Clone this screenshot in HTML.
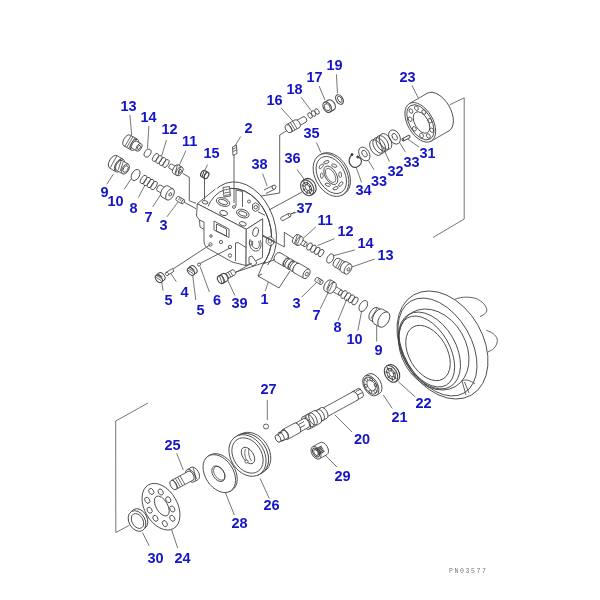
<!DOCTYPE html>
<html><head><meta charset="utf-8"><style>
html,body{margin:0;padding:0;background:#fff;width:600px;height:600px;overflow:hidden}
svg{position:absolute;left:0;top:0;filter:blur(0.3px)}
.lb text{font-family:"Liberation Sans",sans-serif;font-weight:bold;font-size:14.5px;fill:#1414c8}
.ln{stroke:#666;stroke-width:0.9;fill:none}
.pt{stroke:#444;stroke-width:0.85;fill:none;stroke-linejoin:round}
</style></head><body>
<svg width="600" height="600" viewBox="0 0 600 600">
<defs><clipPath id="flc"><polygon points="150,100 350,100 350,300 263,300 263,262 246,265.5 232,262 209,249 150,215"/></clipPath><clipPath id="tfc"><polygon points="150,100 350,100 350,300 262.7,300 262.7,218.8 197.3,203.7 150,203.7"/></clipPath><clipPath id="hrc"><polygon points="406,280 530,280 530,430 420,430 406,380"/></clipPath></defs>
<g class="ln">
<line x1="129.87" y1="115.09" x2="131.7" y2="135"/>
<line x1="148.89" y1="125.8" x2="147.5" y2="148.3"/>
<line x1="166.48" y1="140.02" x2="161.7" y2="155.8"/>
<line x1="185.96" y1="150.64" x2="178.3" y2="167.5"/>
<line x1="207.53" y1="164.63" x2="205" y2="170"/>
<line x1="240.75" y1="136.53" x2="235" y2="145.8"/>
<line x1="106.78" y1="184.29" x2="113.3" y2="174.2"/>
<line x1="124.28" y1="189.29" x2="130.8" y2="179.2"/>
<line x1="138.34" y1="197.61" x2="145" y2="185"/>
<line x1="152.7" y1="206.8" x2="161.7" y2="193.3"/>
<line x1="166.88" y1="216.86" x2="178.3" y2="201.7"/>
<line x1="281.2" y1="108.04" x2="293.7" y2="122"/>
<line x1="301.08" y1="97.24" x2="311.3" y2="110.8"/>
<line x1="319.0" y1="85.86" x2="325" y2="100"/>
<line x1="336.4" y1="74.3" x2="337.5" y2="93.3"/>
<line x1="316.51" y1="142.46" x2="320.8" y2="152.5"/>
<line x1="412.0" y1="85.41" x2="418.2" y2="97.8"/>
<line x1="419.03" y1="146.97" x2="406.5" y2="138.2"/>
<line x1="405.56" y1="152.27" x2="397.2" y2="138.7"/>
<line x1="389.45" y1="161.57" x2="383.2" y2="148"/>
<line x1="374.06" y1="169.77" x2="365.7" y2="156.2"/>
<line x1="361.59" y1="182.51" x2="356.3" y2="167.8"/>
<line x1="296.47" y1="212.38" x2="290.6" y2="214"/>
<line x1="262.63" y1="173.69" x2="267.2" y2="186"/>
<line x1="297.05" y1="169.46" x2="305" y2="180.5"/>
<line x1="315.87" y1="226.81" x2="303.6" y2="238"/>
<line x1="334.43" y1="238.68" x2="317.7" y2="245.5"/>
<line x1="354.96" y1="249.87" x2="332.8" y2="255.9"/>
<line x1="374.5" y1="259.09" x2="351.3" y2="267.2"/>
<line x1="301.57" y1="297.33" x2="316.6" y2="282.3"/>
<line x1="320.19" y1="308.88" x2="328.9" y2="291"/>
<line x1="337.89" y1="320.74" x2="347" y2="298.6"/>
<line x1="357.84" y1="330.73" x2="361.7" y2="310.8"/>
<line x1="376.7" y1="341.5" x2="376.7" y2="318.3"/>
<line x1="163.03" y1="290.72" x2="161.5" y2="280.8"/>
<line x1="176.3" y1="281.7" x2="170.3" y2="272.7"/>
<line x1="195.78" y1="300.01" x2="192.5" y2="273.8"/>
<line x1="209.38" y1="292.01" x2="200.2" y2="266.8"/>
<line x1="234.94" y1="295.57" x2="227.5" y2="279.7"/>
<line x1="265.37" y1="290.79" x2="268.3" y2="282"/>
<line x1="267.3" y1="400.1" x2="267.3" y2="420"/>
<line x1="352.03" y1="432.03" x2="335" y2="415"/>
<line x1="392.3" y1="408.5" x2="383.3" y2="395"/>
<line x1="415.36" y1="397.09" x2="398.3" y2="381.7"/>
<line x1="337.03" y1="467.03" x2="325" y2="455"/>
<line x1="176.67" y1="453.37" x2="183.3" y2="470"/>
<line x1="269.25" y1="498.37" x2="260" y2="478.3"/>
<line x1="234.33" y1="515.03" x2="225" y2="491.7"/>
<line x1="149.2" y1="545.89" x2="142.5" y2="532.5"/>
<line x1="177.74" y1="548.29" x2="171.7" y2="530"/>
<line x1="464.2" y1="97.8" x2="464.2" y2="219"/>
<line x1="464.2" y1="219" x2="433" y2="237.5"/>
<line x1="449.7" y1="104.8" x2="464.2" y2="97.8"/>
<line x1="148" y1="403" x2="115.7" y2="421"/>
<line x1="115.7" y1="421" x2="115.8" y2="532.5"/>
<line x1="115.8" y1="532.5" x2="129.2" y2="525.4"/>
</g>
<g class="pt">
<path d="M453,300.5 C458,297 468,296 476,298.5 C482,301 487,306 486.8,310.5 C486.5,313.5 483,315.5 480,316.5" fill="#fff"/><path d="M486.5,330.5 C491,331.5 496,335 497.2,339 C498,343 495,348.5 491.3,350.3 C490,351 488.8,351.5 487.8,352" fill="#fff"/><ellipse cx="442.5" cy="345" rx="40.6" ry="57.8" transform="rotate(-30 442.5 345)" fill="#fff" /><ellipse cx="437.5" cy="347" rx="33.8" ry="53.1" transform="rotate(-30 437.5 347)" fill="#fff" /><ellipse cx="433.75" cy="349.5" rx="32.3" ry="42.9" transform="rotate(-30 433.75 349.5)" fill="none" /><ellipse cx="429.5" cy="350.5" rx="26.5" ry="41.7" transform="rotate(-30 429.5 350.5)" fill="none" /><ellipse cx="426.9" cy="351.5" rx="22.9" ry="38.8" transform="rotate(-30 426.9 351.5)" fill="none" /><ellipse cx="428" cy="353" rx="19" ry="30" transform="rotate(-30 428 353)" fill="#fff" /><path d="M462,381 C465,379 470,380 475,384 M462,381 L466,395 M464.5,382 L469,393" fill="none"/><ellipse cx="360" cy="393" rx="2.6" ry="4.8" transform="rotate(-28 360 393)" fill="#fff" /><path d="M357.70150977273323,388.786101250011 L352.20150977273323,391.786101250011 L356.79849022726677,400.213898749989 L362.29849022726677,397.213898749989" fill="#fff"/><ellipse cx="354.5" cy="396" rx="2.6" ry="4.8" transform="rotate(-28 354.5 396)" fill="#fff" /><path d="M356,391.5 L360.5,389.2 M357.5,395 L362,392.7" fill="none"/><ellipse cx="355" cy="396" rx="2.6" ry="4.8" transform="rotate(-28 355 396)" fill="#fff" /><path d="M352.6920034662071,391.7913004383777 L321.6920034662071,408.7913004383777 L326.3079965337929,417.2086995616223 L357.3079965337929,400.2086995616223" fill="#fff"/><ellipse cx="324" cy="413" rx="2.6" ry="4.8" transform="rotate(-28 324 413)" fill="#fff" /><ellipse cx="324" cy="413" rx="3.2" ry="6" transform="rotate(-28 324 413)" fill="#fff" /><path d="M321.023166369859,407.79054114725324 L314.023166369859,411.79054114725324 L319.976833630141,422.20945885274676 L326.976833630141,418.20945885274676" fill="#fff"/><ellipse cx="317" cy="417" rx="3.2" ry="6" transform="rotate(-28 317 417)" fill="#fff" /><ellipse cx="320.5" cy="415" rx="3.2" ry="6" transform="rotate(-28 320.5 415)" fill="none" /><ellipse cx="317" cy="417" rx="3.6" ry="7" transform="rotate(-28 317 417)" fill="#fff" /><path d="M313.64803508523596,410.8547309895993 L302.64803508523596,416.8547309895993 L309.35196491476404,429.1452690104007 L320.35196491476404,423.1452690104007" fill="#fff"/><ellipse cx="306" cy="423" rx="3.6" ry="7" transform="rotate(-28 306 423)" fill="#fff" /><ellipse cx="313" cy="419" rx="3.4" ry="6.6" transform="rotate(-28 313 419)" fill="none" /><ellipse cx="310" cy="420.6" rx="3.4" ry="6.6" transform="rotate(-28 310 420.6)" fill="none" /><ellipse cx="306" cy="423" rx="2.8" ry="5" transform="rotate(-28 306 423)" fill="#fff" /><path d="M303.57178534410684,418.6292136193923 L294.57178534410684,423.6292136193923 L299.42821465589316,432.3707863806077 L308.42821465589316,427.3707863806077" fill="#fff"/><ellipse cx="297" cy="428" rx="2.8" ry="5" transform="rotate(-28 297 428)" fill="#fff" /><path d="M305,425 L297,429.5 M304,421.5 L296,426" fill="none"/><ellipse cx="297" cy="428" rx="3" ry="5.5" transform="rotate(-28 297 428)" fill="#fff" /><path d="M294.3804426830259,423.16389418404776 L282.3804426830259,429.66389418404776 L287.6195573169741,439.33610581595224 L299.6195573169741,432.83610581595224" fill="#fff"/><ellipse cx="285" cy="434.5" rx="3" ry="5.5" transform="rotate(-28 285 434.5)" fill="#fff" /><ellipse cx="285" cy="434.5" rx="2.5" ry="4.5" transform="rotate(-28 285 434.5)" fill="#fff" /><path d="M282.98753882025017,430.4750776405004 L278.98753882025017,432.4750776405004 L283.01246117974983,440.5249223594996 L287.01246117974983,438.5249223594996" fill="#fff"/><ellipse cx="281" cy="436.5" rx="2.5" ry="4.5" transform="rotate(-28 281 436.5)" fill="#fff" /><path d="M282.5,432 L278,434.5 M284.5,440 L279.5,442" fill="none"/><ellipse cx="278" cy="438.5" rx="2.4" ry="4" transform="rotate(-28 278 438.5)" fill="#fff" /><ellipse cx="373.9" cy="383.8" rx="6.8" ry="11.2" transform="rotate(-30 373.9 383.8)" fill="#fff" /><path d="M368.27608220527105,374.11436379796703 L365.1760822052711,375.91436379796704 L376.42391779472894,395.285636202033 L379.5239177947289,393.485636202033" fill="#fff"/><ellipse cx="370.8" cy="385.6" rx="6.8" ry="11.2" transform="rotate(-30 370.8 385.6)" fill="#fff" /><ellipse cx="370.6" cy="385.6" rx="5.6" ry="9.4" transform="rotate(-30 370.6 385.6)" fill="none" /><ellipse cx="371.2" cy="385.4" rx="3.6" ry="5.8" transform="rotate(-30 371.2 385.4)" fill="none" stroke-width="0.7" /><ellipse cx="375.7" cy="385.2" rx="1.3" ry="1.7" transform="rotate(-30 375.7 385.2)" fill="none" stroke-width="0.8" /><ellipse cx="375.29" cy="391.24" rx="1.3" ry="1.7" transform="rotate(-30 375.29 391.24)" fill="none" stroke-width="0.8" /><ellipse cx="370.39" cy="391.54" rx="1.3" ry="1.7" transform="rotate(-30 370.39 391.54)" fill="none" stroke-width="0.8" /><ellipse cx="365.9" cy="385.8" rx="1.3" ry="1.7" transform="rotate(-30 365.9 385.8)" fill="none" stroke-width="0.8" /><ellipse cx="366.31" cy="379.76" rx="1.3" ry="1.7" transform="rotate(-30 366.31 379.76)" fill="none" stroke-width="0.8" /><ellipse cx="371.21" cy="379.46" rx="1.3" ry="1.7" transform="rotate(-30 371.21 379.46)" fill="none" stroke-width="0.8" /><ellipse cx="393" cy="372.8" rx="5.8" ry="9" transform="rotate(-30 393 372.8)" fill="#fff" stroke-width="1.1" /><path d="M388.6627312520507,364.91405682191015 L386.6627312520507,366.0140568219101 L395.3372687479493,381.78594317808984 L397.3372687479493,380.6859431780899" fill="#fff" stroke-width="1.1"/><ellipse cx="391" cy="373.9" rx="5.8" ry="9" transform="rotate(-30 391 373.9)" fill="#fff" stroke-width="1.1" /><ellipse cx="391" cy="373.9" rx="3.6" ry="6.2" transform="rotate(-30 391 373.9)" fill="none" stroke-width="0.9" /><ellipse cx="391.3" cy="373.7" rx="1.9" ry="3.4" transform="rotate(-30 391.3 373.7)" fill="none" stroke-width="0.8" /><path d="M393.24,373.48 L395.66,372.95" stroke-width="1.4" stroke="#555"/><path d="M393.56,376.33 L396.20,378.71" stroke-width="1.4" stroke="#555"/><path d="M391.95,377.35 L392.82,380.84" stroke-width="1.4" stroke="#555"/><path d="M389.62,375.78 L388.07,377.75" stroke-width="1.4" stroke="#555"/><path d="M388.33,372.79 L385.53,371.76" stroke-width="1.4" stroke="#555"/><path d="M389.05,370.64 L387.10,367.38" stroke-width="1.4" stroke="#555"/><path d="M391.24,370.94 L391.61,367.91" stroke-width="1.4" stroke="#555"/><ellipse cx="266" cy="426.5" rx="2.5" ry="2.5" fill="#fff" /><ellipse cx="323.5" cy="448.6" rx="4.2" ry="6.9" transform="rotate(-30 323.5 448.6)" fill="#fff" /><path d="M320.1286367543703,442.57970848994694 L312.6286367543703,446.7797084899469 L319.3713632456297,458.8202915100531 L326.8713632456297,454.6202915100531" fill="#fff"/><ellipse cx="316" cy="452.8" rx="4.2" ry="6.9" transform="rotate(-30 316 452.8)" fill="#fff" /><ellipse cx="316" cy="452.6" rx="2.8" ry="4.8" transform="rotate(-30 316 452.6)" fill="none" stroke-width="1.0" /><path d="M314.5,450.0 L321.5,446.0" stroke-width="1.1"/><path d="M315.2,451.3 L322.2,447.3" stroke-width="1.1"/><path d="M316.0,452.6 L323.0,448.6" stroke-width="1.1"/><path d="M316.8,453.9 L323.8,449.9" stroke-width="1.1"/><path d="M317.5,455.2 L324.5,451.2" stroke-width="1.1"/><ellipse cx="316" cy="452.6" rx="1.8" ry="3.2" transform="rotate(-30 316 452.6)" fill="#fff" stroke-width="0.8" /><ellipse cx="252.5" cy="452.8" rx="16.5" ry="22" transform="rotate(-33 252.5 452.8)" fill="#fff" /><path d="M241.75072588349957,433.6048676491061 L239.25072588349957,435.0048676491061 L260.74927411650043,473.3951323508939 L263.24927411650043,471.9951323508939" fill="#fff"/><ellipse cx="250" cy="454.2" rx="16.5" ry="22" transform="rotate(-33 250 454.2)" fill="#fff" /><ellipse cx="250" cy="454.2" rx="16.8" ry="22.3" transform="rotate(-33 250 454.2)" fill="#fff" /><path d="M239.71183397288357,434.41506533246854 L237.21183397288357,435.71506533246855 L257.78816602711646,475.28493466753145 L260.28816602711646,473.98493466753143" fill="#fff"/><ellipse cx="247.5" cy="455.5" rx="16.8" ry="22.3" transform="rotate(-33 247.5 455.5)" fill="#fff" /><ellipse cx="247.5" cy="455.5" rx="14" ry="19" transform="rotate(-33 247.5 455.5)" fill="none" /><ellipse cx="248" cy="455.5" rx="5.4" ry="9.2" transform="rotate(-33 248 455.5)" fill="#fff" /><path d="M245.5,449 C244,453 245,459 248,462 M249,448.5 C248,452 249,458 251.5,461" fill="none" stroke-width="0.8"/><ellipse cx="246.5" cy="461.5" rx="1.6" ry="1.6" fill="#fff" stroke-width="0.8" /><ellipse cx="221" cy="472.6" rx="14" ry="20.7" transform="rotate(-33 221 472.6)" fill="#fff" /><path d="M210.5046833801377,454.75796174623423 L208.8046833801377,455.75796174623423 L229.79531661986232,491.4420382537658 L231.4953166198623,490.4420382537658" fill="#fff"/><ellipse cx="219.3" cy="473.6" rx="14" ry="20.7" transform="rotate(-33 219.3 473.6)" fill="#fff" /><ellipse cx="218.4" cy="473.7" rx="5.6" ry="8.6" transform="rotate(-33 218.4 473.7)" fill="none" /><ellipse cx="219.2" cy="473.3" rx="4.6" ry="7.6" transform="rotate(-33 219.2 473.3)" fill="none" stroke-width="0.7" /><ellipse cx="194.5" cy="473.5" rx="4.2" ry="7" transform="rotate(-30 194.5 473.5)" fill="#fff" /><path d="M191.0107021301934,467.43165587859727 L187.0107021301934,469.7316558785973 L193.9892978698066,481.86834412140274 L197.9892978698066,479.56834412140273" fill="#fff"/><ellipse cx="190.5" cy="475.8" rx="4.2" ry="7" transform="rotate(-30 190.5 475.8)" fill="#fff" /><path d="M193,467.5 L196.5,479 M190,469.5 L193,480.5" fill="none" stroke-width="0.8"/><ellipse cx="190.5" cy="475.8" rx="3" ry="5" transform="rotate(-30 190.5 475.8)" fill="#fff" /><path d="M188.12025101653975,471.4026377479539 L171.12025101653975,480.6026377479539 L175.87974898346025,489.3973622520461 L192.87974898346025,480.1973622520461" fill="#fff"/><ellipse cx="173.5" cy="485" rx="3" ry="5" transform="rotate(-30 173.5 485)" fill="#fff" /><path d="M173.0,479.6 L178.0,488.2" stroke-width="0.8"/><path d="M175.3,478.3 L180.3,486.9" stroke-width="0.8"/><path d="M177.6,477.1 L182.6,485.7" stroke-width="0.8"/><path d="M179.9,475.8 L184.9,484.4" stroke-width="0.8"/><ellipse cx="161" cy="506.7" rx="16.4" ry="25.2" transform="rotate(-30 161 506.7)" fill="#fff" /><ellipse cx="161.8" cy="506" rx="5.8" ry="11" transform="rotate(-30 161.8 506)" fill="none" /><ellipse cx="151.3" cy="491.5" rx="2.3" ry="3.2" transform="rotate(-30 151.3 491.5)" fill="none" /><ellipse cx="160.7" cy="492" rx="2.3" ry="3.2" transform="rotate(-30 160.7 492)" fill="none" /><ellipse cx="168.3" cy="499.7" rx="2.3" ry="3.2" transform="rotate(-30 168.3 499.7)" fill="none" /><ellipse cx="172.3" cy="509" rx="2.3" ry="3.2" transform="rotate(-30 172.3 509)" fill="none" /><ellipse cx="172.3" cy="518.3" rx="2.3" ry="3.2" transform="rotate(-30 172.3 518.3)" fill="none" /><ellipse cx="164.8" cy="523.6" rx="2.3" ry="3.2" transform="rotate(-30 164.8 523.6)" fill="none" /><ellipse cx="155.4" cy="518.3" rx="2.3" ry="3.2" transform="rotate(-30 155.4 518.3)" fill="none" /><ellipse cx="149.6" cy="510.2" rx="2.3" ry="3.2" transform="rotate(-30 149.6 510.2)" fill="none" /><ellipse cx="147.3" cy="500.3" rx="2.3" ry="3.2" transform="rotate(-30 147.3 500.3)" fill="none" /><ellipse cx="139" cy="519" rx="8" ry="11" transform="rotate(-30 139 519)" fill="#fff" /><ellipse cx="137" cy="521" rx="8" ry="11" transform="rotate(-30 137 521)" fill="#fff" /><ellipse cx="137.5" cy="521" rx="5.5" ry="8" transform="rotate(-30 137.5 521)" fill="none" /><ellipse cx="438" cy="112.1" rx="12.6" ry="21.7" transform="rotate(-30 438 112.1)" fill="#fff" /><path d="M427.12542194327756,93.32146033131833 L409.42542194327757,103.57146033131833 L431.17457805672245,141.12853966868167 L448.87457805672244,130.87853966868167" fill="#fff"/><ellipse cx="420.3" cy="122.35" rx="12.6" ry="21.7" transform="rotate(-30 420.3 122.35)" fill="#fff" /><ellipse cx="420.4" cy="122.3" rx="11" ry="19.3" transform="rotate(-30 420.4 122.3)" fill="none" /><ellipse cx="421.5" cy="122.5" rx="6.7" ry="11.8" transform="rotate(-30 421.5 122.5)" fill="#fff" /><ellipse cx="429.9" cy="120.72" rx="1.7" ry="2.4" transform="rotate(-30 429.9 120.72)" fill="none" stroke-width="0.8" /><ellipse cx="431.7" cy="130.19" rx="1.7" ry="2.4" transform="rotate(-30 431.7 130.19)" fill="none" stroke-width="0.8" /><ellipse cx="428.4" cy="136.02" rx="1.7" ry="2.4" transform="rotate(-30 428.4 136.02)" fill="none" stroke-width="0.8" /><ellipse cx="421.54" cy="135.47" rx="1.7" ry="2.4" transform="rotate(-30 421.54 135.47)" fill="none" stroke-width="0.8" /><ellipse cx="414.34" cy="128.81" rx="1.7" ry="2.4" transform="rotate(-30 414.34 128.81)" fill="none" stroke-width="0.8" /><ellipse cx="410.15" cy="119.15" rx="1.7" ry="2.4" transform="rotate(-30 410.15 119.15)" fill="none" stroke-width="0.8" /><ellipse cx="410.95" cy="111.01" rx="1.7" ry="2.4" transform="rotate(-30 410.95 111.01)" fill="none" stroke-width="0.8" /><ellipse cx="416.36" cy="108.2" rx="1.7" ry="2.4" transform="rotate(-30 416.36 108.2)" fill="none" stroke-width="0.8" /><ellipse cx="423.84" cy="112.04" rx="1.7" ry="2.4" transform="rotate(-30 423.84 112.04)" fill="none" stroke-width="0.8" /><ellipse cx="409" cy="136.6" rx="0.8" ry="1.3" transform="rotate(-30 409 136.6)" fill="#fff" stroke-width="1.0" /><path d="M408.38823529411764,135.45294117647057 L402.38823529411764,138.6529411764706 L403.61176470588236,140.94705882352943 L409.61176470588236,137.74705882352941" fill="#fff" stroke-width="1.0"/><ellipse cx="403" cy="139.8" rx="0.8" ry="1.3" transform="rotate(-30 403 139.8)" fill="#fff" stroke-width="1.0" /><ellipse cx="394.5" cy="137" rx="5.2" ry="7.6" transform="rotate(-30 394.5 137)" fill="#fff" /><ellipse cx="394.7" cy="136.8" rx="2.3" ry="3.6" transform="rotate(-30 394.7 136.8)" fill="none" /><ellipse cx="376.0" cy="147.5" rx="5.4" ry="8.6" transform="rotate(-30 376.0 147.5)" fill="none" /><ellipse cx="379.1666666666667" cy="145.5" rx="5.4" ry="8.6" transform="rotate(-30 379.1666666666667 145.5)" fill="none" /><ellipse cx="382.3333333333333" cy="143.5" rx="5.4" ry="8.6" transform="rotate(-30 382.3333333333333 143.5)" fill="none" /><ellipse cx="385.5" cy="141.5" rx="5.4" ry="8.6" transform="rotate(-30 385.5 141.5)" fill="none" /><ellipse cx="364.3" cy="154" rx="5" ry="7.4" transform="rotate(-30 364.3 154)" fill="#fff" /><ellipse cx="364.5" cy="153.6" rx="2.3" ry="3.6" transform="rotate(-30 364.5 153.6)" fill="none" /><path d="M352.5,154.5 C348.5,157 348,163 351.5,166 C354.5,168.5 359,167.5 361,163.5 C362,161 361,158.5 358.5,157" fill="none" stroke-width="1.1"/><ellipse cx="352" cy="154.5" rx="1.1" ry="1.1" fill="#333" /><ellipse cx="357.8" cy="157" rx="1.1" ry="1.1" fill="#333" /><ellipse cx="332.6" cy="174.1" rx="15.8" ry="23" transform="rotate(-30 332.6 174.1)" fill="#fff" /><path d="M321.3239914884512,154.0537626461353 L319.7239914884512,154.95376264613532 L342.2760085115488,195.04623735386468 L343.87600851154883,194.14623735386468" fill="#fff"/><ellipse cx="331" cy="175" rx="15.8" ry="23" transform="rotate(-30 331 175)" fill="#fff" /><ellipse cx="331.3" cy="175" rx="13.2" ry="20" transform="rotate(-30 331.3 175)" fill="none" /><ellipse cx="330.8" cy="175.3" rx="5.6" ry="10.2" transform="rotate(-30 330.8 175.3)" fill="none" /><ellipse cx="330.6" cy="175.4" rx="4" ry="7.8" transform="rotate(-30 330.6 175.4)" fill="none" stroke-width="0.7" /><ellipse cx="340.21" cy="174.73" rx="1.4" ry="2.8" transform="rotate(-2.9 340.21 174.73)" fill="none" stroke-width="0.8" /><ellipse cx="340.75" cy="184.07" rx="1.4" ry="2.8" transform="rotate(42.3 340.75 184.07)" fill="none" stroke-width="0.8" /><ellipse cx="335.58" cy="188.22" rx="1.4" ry="2.8" transform="rotate(70.6 335.58 188.22)" fill="none" stroke-width="0.8" /><ellipse cx="327.73" cy="184.74" rx="1.4" ry="2.8" transform="rotate(108.9 327.73 184.74)" fill="none" stroke-width="0.8" /><ellipse cx="321.79" cy="175.67" rx="1.4" ry="2.8" transform="rotate(177.1 321.79 175.67)" fill="none" stroke-width="0.8" /><ellipse cx="321.25" cy="166.33" rx="1.4" ry="2.8" transform="rotate(-137.7 321.25 166.33)" fill="none" stroke-width="0.8" /><ellipse cx="326.42" cy="162.18" rx="1.4" ry="2.8" transform="rotate(-109.4 326.42 162.18)" fill="none" stroke-width="0.8" /><ellipse cx="334.27" cy="165.66" rx="1.4" ry="2.8" transform="rotate(-71.1 334.27 165.66)" fill="none" stroke-width="0.8" /><ellipse cx="309.5" cy="186.3" rx="6" ry="8.4" transform="rotate(-30 309.5 186.3)" fill="#fff" stroke-width="1.1" /><path d="M304.91135064340585,179.26407098655565 L302.61135064340584,180.76407098655565 L311.78864935659414,194.83592901344437 L314.08864935659415,193.33592901344437" fill="#fff" stroke-width="1.1"/><ellipse cx="307.2" cy="187.8" rx="6" ry="8.4" transform="rotate(-30 307.2 187.8)" fill="#fff" stroke-width="1.1" /><ellipse cx="307.2" cy="187.8" rx="3.8" ry="5.8" transform="rotate(-30 307.2 187.8)" fill="none" /><ellipse cx="307.5" cy="187.6" rx="2" ry="3.3" transform="rotate(-30 307.5 187.6)" fill="none" /><path d="M309.11,186.70 L311.18,185.50" stroke-width="1.1"/><path d="M309.78,189.17 L312.63,190.71" stroke-width="1.1"/><path d="M308.95,190.83 L310.90,194.21" stroke-width="1.1"/><path d="M307.09,190.72 L307.00,193.96" stroke-width="1.1"/><path d="M305.29,188.90 L303.22,190.10" stroke-width="1.1"/><path d="M304.62,186.43 L301.77,184.89" stroke-width="1.1"/><path d="M305.45,184.77 L303.50,181.39" stroke-width="1.1"/><path d="M307.31,184.88 L307.40,181.64" stroke-width="1.1"/><ellipse cx="304.5" cy="119.5" rx="2" ry="3" transform="rotate(-30 304.5 119.5)" fill="#fff" /><path d="M303.00784766266787,116.8974087139556 L295.50784766266787,121.1974087139556 L298.49215233733213,126.4025912860444 L305.99215233733213,122.1025912860444" fill="#fff"/><ellipse cx="297" cy="123.8" rx="2" ry="3" transform="rotate(-30 297 123.8)" fill="#fff" /><ellipse cx="297" cy="123.8" rx="2.8" ry="4.4" transform="rotate(-30 297 123.8)" fill="#fff" /><path d="M294.8364334897961,119.96868430484722 L286.3364334897961,124.76868430484721 L290.6635665102039,132.43131569515276 L299.1635665102039,127.63131569515278" fill="#fff"/><ellipse cx="288.5" cy="128.6" rx="2.8" ry="4.4" transform="rotate(-30 288.5 128.6)" fill="#fff" /><path d="M288.3,123.7 L292.7,131.3" stroke-width="0.8"/><path d="M290.5,122.5 L294.9,130.1" stroke-width="0.8"/><path d="M292.7,121.2 L297.1,128.8" stroke-width="0.8"/><ellipse cx="317.0" cy="111.5" rx="1.9" ry="3" transform="rotate(-30 317.0 111.5)" fill="none" /><ellipse cx="313.5" cy="113.5" rx="1.9" ry="3" transform="rotate(-30 313.5 113.5)" fill="none" /><ellipse cx="310.0" cy="115.5" rx="1.9" ry="3" transform="rotate(-30 310.0 115.5)" fill="none" /><ellipse cx="331" cy="105" rx="3.8" ry="5.6" transform="rotate(-30 331 105)" fill="#fff" stroke-width="1.1" /><path d="M328.19419688496646,100.1536128013057 L324.39419688496645,102.3536128013057 L330.00580311503353,112.0463871986943 L333.80580311503354,109.8463871986943" fill="#fff" stroke-width="1.1"/><ellipse cx="327.2" cy="107.2" rx="3.8" ry="5.6" transform="rotate(-30 327.2 107.2)" fill="#fff" stroke-width="1.1" /><ellipse cx="327.2" cy="107.2" rx="2.6" ry="3.8" transform="rotate(-30 327.2 107.2)" fill="none" /><ellipse cx="339.5" cy="99.5" rx="3.3" ry="5.2" transform="rotate(-30 339.5 99.5)" fill="none" stroke-width="1.1" /><ellipse cx="339.8" cy="99.3" rx="1.8" ry="3.4" transform="rotate(-30 339.8 99.3)" fill="none" /><path d="M286.7,130.8 L279.7,135 L279.7,193 L258,196.5" fill="none"/><path d="M264,190 L273,185.5 M266,193.5 L275,189" fill="none"/><ellipse cx="274" cy="187.2" rx="1.8" ry="2.2" transform="rotate(30 274 187.2)" fill="#fff" /><g clip-path="url(#flc)"><ellipse cx="241" cy="228.1" rx="33.9" ry="47.4" transform="rotate(-18.5 241 228.1)" fill="#fff" /><ellipse cx="238.2" cy="230.7" rx="32.3" ry="43.2" transform="rotate(-17.5 238.2 230.7)" fill="#fff" /></g><path d="M197.3,203.7 L215.4,189 L228,186 L262.7,218.8 L246.3,229.3 Z" fill="#fff" stroke-width="0"/><g clip-path="url(#tfc)"><ellipse cx="238.2" cy="230.7" rx="32.3" ry="43.2" transform="rotate(-17.5 238.2 230.7)" fill="none" /></g><path d="M223,187.5 L229.5,186.5 L230.5,196 L224,197 Z" fill="#fff"/><path d="M224,190 L229.5,189 M224.3,193 L230,192 M224.6,195.5 L230.3,194.5" fill="none" stroke-width="0.8"/><path d="M236,190 L236,206 M242.5,191.5 L242.5,207 M236,190 L242.5,191.5" fill="none"/><path d="M197.3,203.7 L215.4,189" fill="none"/><path d="M197.3,203.7 L246.3,229.3 L262.7,218.8" fill="none"/><path d="M197.3,203.7 L196.5,216 L199.5,220 L200,227 L204,229.5 L204,242 C204.5,245.5 206,247.5 209,249 L232,262 L246,265.5 L246.3,229.3 Z" fill="#fff"/><path d="M199.5,220 L204,222 L204,229.5" fill="none"/><path d="M214,221 L214,230 L229,237.5 L229,229 Z" fill="none"/><path d="M216.5,224 L216.5,231 L226.5,236 L226.5,229 Z" fill="none"/><ellipse cx="211" cy="236" rx="1.2" ry="1.32" fill="none" /><ellipse cx="210.5" cy="244.5" rx="1.6" ry="1.7600000000000002" fill="none" /><ellipse cx="221" cy="242" rx="1.6" ry="1.7600000000000002" fill="none" /><ellipse cx="230" cy="247" rx="1.6" ry="1.7600000000000002" fill="none" /><ellipse cx="230" cy="255.5" rx="1.6" ry="1.7600000000000002" fill="none" /><path d="M246.3,229.3 L262.7,218.8 L262.5,257.5 L246,265.5 Z" fill="#fff"/><path d="M235.5,261 L235.5,243 L238,242.5 L246,247.5" fill="none"/><ellipse cx="255.6" cy="232" rx="2.8" ry="4.6" transform="rotate(15 255.6 232)" fill="none" /><path d="M250,239 C248,246 252,252 257,251 C261,250 262,244 260,240 M252,241 C251,246 254,249 257,248.5 C259.5,248 260,244 258.5,241" fill="none"/><ellipse cx="251" cy="243" rx="1.8" ry="2.2" fill="none" /><path d="M249,257 L252,256 L257,263 L253,266 L249,263 Z" fill="#fff"/><path d="M266.5,238 L270.5,236.5 L274,239.5 L273.5,244 L269.5,245.5 L266,242.5 Z" fill="#fff" stroke-width="0.8"/><ellipse cx="270" cy="241" rx="1.8" ry="2.2" fill="none" stroke-width="0.7" /><ellipse cx="223" cy="202" rx="7" ry="4" transform="rotate(20 223 202)" fill="none" /><ellipse cx="223" cy="202" rx="4.8" ry="2.3" transform="rotate(20 223 202)" fill="none" /><ellipse cx="242.8" cy="213.6" rx="6.5" ry="4" transform="rotate(20 242.8 213.6)" fill="none" /><ellipse cx="242.8" cy="213.6" rx="4.5" ry="2.2" transform="rotate(20 242.8 213.6)" fill="none" /><ellipse cx="223.6" cy="213" rx="4" ry="2.5" transform="rotate(15 223.6 213)" fill="none" /><ellipse cx="205" cy="202.3" rx="3" ry="1.6" transform="rotate(15 205 202.3)" fill="none" /><ellipse cx="234" cy="207" rx="1.5" ry="1.4" fill="none" /><ellipse cx="242.8" cy="223.8" rx="3.5" ry="2" transform="rotate(15 242.8 223.8)" fill="none" /><ellipse cx="249" cy="201.5" rx="1.5" ry="1.5" fill="none" /><path d="M252.5,204.5 L255.5,202.8 L259,204.8 L259,209.5 L255.5,211.5 L252.5,209.5 Z" fill="#fff"/><ellipse cx="255.7" cy="207.2" rx="1.8" ry="1.8" fill="none" /><path d="M258,211.8 L265,215.3 M262.5,236 L275,242.5" fill="none"/><path d="M234,155 L234,203 M204.5,178 L204.5,199.5" fill="none"/><path d="M182.7,173.3 L189.3,177.3 L189.3,200.7 L196,203.3" fill="none"/><path d="M184,202 L196,208.7" fill="none"/><path d="M173,269 L210.5,244.5 M199,264 L230,248 M233,274 L252,263 M236,272 L266,262" fill="none"/><path d="M302,192 L269,210" fill="none"/><path d="M289,215 L295,212" fill="none"/><path d="M263,264 L258,276 L279,288 L290,271" fill="#fff"/><ellipse cx="277.5" cy="257" rx="2.8" ry="5" transform="rotate(30 277.5 257)" fill="#fff" /><path d="M274.99861201062686,261.32932536622275 L283.99861201062686,266.52932536622274 L289.00138798937314,257.87067463377724 L280.00138798937314,252.67067463377725" fill="#fff"/><ellipse cx="286.5" cy="262.2" rx="2.8" ry="5" transform="rotate(30 286.5 262.2)" fill="#fff" /><ellipse cx="286.5" cy="262.2" rx="2.3" ry="4.2" transform="rotate(30 286.5 262.2)" fill="#fff" /><path d="M284.3391178272044,265.8014702879927 L286.3391178272044,267.0014702879927 L290.6608821727956,259.7985297120073 L288.6608821727956,258.5985297120073" fill="#fff"/><ellipse cx="288.5" cy="263.4" rx="2.3" ry="4.2" transform="rotate(30 288.5 263.4)" fill="#fff" /><ellipse cx="288.5" cy="263.4" rx="2.8" ry="5" transform="rotate(30 288.5 263.4)" fill="#fff" /><path d="M286.03493714009556,267.750110929243 L289.03493714009556,269.45011092924307 L293.96506285990444,260.749889070757 L290.96506285990444,259.04988907075693" fill="#fff"/><ellipse cx="291.5" cy="265.1" rx="2.8" ry="5" transform="rotate(30 291.5 265.1)" fill="#fff" /><ellipse cx="291.5" cy="265.1" rx="2.3" ry="4.2" transform="rotate(30 291.5 265.1)" fill="#fff" /><path d="M289.3391178272044,268.7014702879927 L291.3391178272044,269.9014702879927 L295.6608821727956,262.6985297120073 L293.6608821727956,261.4985297120073" fill="#fff"/><ellipse cx="293.5" cy="266.3" rx="2.3" ry="4.2" transform="rotate(30 293.5 266.3)" fill="#fff" /><ellipse cx="293.5" cy="266.3" rx="2.8" ry="5" transform="rotate(30 293.5 266.3)" fill="#fff" /><path d="M291.0349371400956,270.65011092924306 L294.0349371400956,272.35011092924304 L298.9650628599044,263.64988907075696 L295.9650628599044,261.94988907075697" fill="#fff"/><ellipse cx="296.5" cy="268" rx="2.8" ry="5" transform="rotate(30 296.5 268)" fill="#fff" /><ellipse cx="296.5" cy="268" rx="2.9" ry="5.3" transform="rotate(30 296.5 268)" fill="#fff" /><path d="M293.8408941242092,272.58466530308755 L303.8408941242092,278.38466530308756 L309.1591058757908,269.21533469691246 L299.1591058757908,263.41533469691245" fill="#fff"/><ellipse cx="306.5" cy="273.8" rx="2.9" ry="5.3" transform="rotate(30 306.5 273.8)" fill="#fff" /><ellipse cx="306.8" cy="274" rx="1.3" ry="2" transform="rotate(30 306.8 274)" fill="none" /><path d="M263,264 L275,259.5 M258,276 L262,274" fill="none"/><ellipse cx="282" cy="219" rx="1.1" ry="1.8" transform="rotate(-30 282 219)" fill="#fff" /><path d="M282.84705882352944,220.58823529411765 L290.34705882352944,216.58823529411765 L288.65294117647056,213.41176470588235 L281.15294117647056,217.41176470588235" fill="#fff"/><ellipse cx="289.5" cy="215" rx="1.1" ry="1.8" transform="rotate(-30 289.5 215)" fill="#fff" /><path d="M294,238.5 L284.3,232.3 L284.3,247 L262.5,235" fill="none"/><ellipse cx="299.5" cy="241" rx="1.3" ry="2.4" transform="rotate(30 299.5 241)" fill="#fff" /><path d="M298.2907095387422,243.07306936215625 L304.2907095387422,246.57306936215625 L306.7092904612578,242.42693063784375 L300.7092904612578,238.92693063784375" fill="#fff"/><ellipse cx="305.5" cy="244.5" rx="1.3" ry="2.4" transform="rotate(30 305.5 244.5)" fill="#fff" /><ellipse cx="296" cy="239" rx="2.8" ry="5" transform="rotate(30 296 239)" fill="#fff" /><path d="M293.51930530821585,243.3412157106223 L297.01930530821585,245.3412157106223 L301.98069469178415,236.6587842893777 L298.48069469178415,234.6587842893777" fill="#fff"/><ellipse cx="299.5" cy="241" rx="2.8" ry="5" transform="rotate(30 299.5 241)" fill="#fff" /><path d="M297.5,235 L294.5,243 M300.3,236.6 L297.3,244.6" fill="none" stroke-width="0.8"/><ellipse cx="309.5" cy="246.5" rx="2.3" ry="4" transform="rotate(30 309.5 246.5)" fill="none" /><ellipse cx="313.3333333333333" cy="248.66666666666666" rx="2.3" ry="4" transform="rotate(30 313.3333333333333 248.66666666666666)" fill="none" /><ellipse cx="317.1666666666667" cy="250.83333333333334" rx="2.3" ry="4" transform="rotate(30 317.1666666666667 250.83333333333334)" fill="none" /><ellipse cx="321.0" cy="253.0" rx="2.3" ry="4" transform="rotate(30 321.0 253.0)" fill="none" /><ellipse cx="330.2" cy="258.5" rx="3" ry="5" transform="rotate(30 330.2 258.5)" fill="none" /><ellipse cx="336.5" cy="262.5" rx="2.7" ry="4.7" transform="rotate(30 336.5 262.5)" fill="#fff" /><path d="M334.162294671513,266.5773930148029 L341.662294671513,270.8773930148029 L346.337705328487,262.7226069851971 L338.837705328487,258.4226069851971" fill="#fff"/><ellipse cx="344" cy="266.8" rx="2.7" ry="4.7" transform="rotate(30 344 266.8)" fill="#fff" /><path d="M340.4,259.3 L335.6,267.5" stroke-width="0.8"/><path d="M342.4,260.4 L337.6,268.6" stroke-width="0.8"/><path d="M344.4,261.6 L339.6,269.8" stroke-width="0.8"/><ellipse cx="344" cy="266.8" rx="3.1" ry="5.6" transform="rotate(30 344 266.8)" fill="#fff" /><path d="M341.2085617041547,271.6546752971222 L345.2085617041547,273.9546752971222 L350.7914382958453,264.24532470287784 L346.7914382958453,261.9453247028778" fill="#fff"/><ellipse cx="348" cy="269.1" rx="3.1" ry="5.6" transform="rotate(30 348 269.1)" fill="#fff" /><ellipse cx="348.5" cy="269.4" rx="1.3" ry="1.8" transform="rotate(30 348.5 269.4)" fill="none" /><ellipse cx="316.5" cy="279.5" rx="1.3" ry="2.3" transform="rotate(30 316.5 279.5)" fill="#fff" /><path d="M315.34604839352477,281.48957173530215 L320.34604839352477,284.3895717353021 L322.65395160647523,280.4104282646978 L317.65395160647523,277.51042826469785" fill="#fff"/><ellipse cx="321.5" cy="282.4" rx="1.3" ry="2.3" transform="rotate(30 321.5 282.4)" fill="#fff" /><path d="M319,278.2 L317.5,281.2 M320.5,279 L319,282" fill="none" stroke-width="0.7"/><ellipse cx="331.5" cy="287.5" rx="1.6" ry="2.9" transform="rotate(30 331.5 287.5)" fill="#fff" /><path d="M330.04919496616355,290.0110087124092 L339.04919496616355,295.2110087124092 L341.95080503383645,290.1889912875908 L332.95080503383645,284.9889912875908" fill="#fff"/><ellipse cx="340.5" cy="292.7" rx="1.6" ry="2.9" transform="rotate(30 340.5 292.7)" fill="#fff" /><ellipse cx="328" cy="285.5" rx="3.4" ry="6.2" transform="rotate(30 328 285.5)" fill="#fff" /><path d="M324.9094790295999,290.8748190789567 L328.9094790295999,293.1748190789567 L335.0905209704001,282.4251809210433 L331.0905209704001,280.1251809210433" fill="#fff"/><ellipse cx="332" cy="287.8" rx="3.4" ry="6.2" transform="rotate(30 332 287.8)" fill="#fff" /><path d="M330.5,280.5 L326.5,289.5 M333.3,282.2 L329.3,291.2" fill="none" stroke-width="0.8"/><ellipse cx="344.0" cy="294.5" rx="2.4" ry="4.3" transform="rotate(30 344.0 294.5)" fill="none" /><ellipse cx="347.6666666666667" cy="296.6666666666667" rx="2.4" ry="4.3" transform="rotate(30 347.6666666666667 296.6666666666667)" fill="none" /><ellipse cx="351.3333333333333" cy="298.8333333333333" rx="2.4" ry="4.3" transform="rotate(30 351.3333333333333 298.8333333333333)" fill="none" /><ellipse cx="355.0" cy="301.0" rx="2.4" ry="4.3" transform="rotate(30 355.0 301.0)" fill="none" /><ellipse cx="363.3" cy="306" rx="3.6" ry="6" transform="rotate(30 363.3 306)" fill="none" /><ellipse cx="374" cy="314" rx="4.2" ry="7.2" transform="rotate(30 374 314)" fill="#fff" /><path d="M370.39800129530266,320.23422852736076 L374.89800129530266,322.8342285273608 L382.10199870469734,310.36577147263927 L377.60199870469734,307.76577147263924" fill="#fff"/><ellipse cx="378.5" cy="316.6" rx="4.2" ry="7.2" transform="rotate(30 378.5 316.6)" fill="#fff" /><path d="M377.3,307.8 L371,318.5 M379.6,309.2 L373.3,319.9" fill="none" stroke-width="0.8"/><ellipse cx="378.5" cy="316.6" rx="5" ry="8.4" transform="rotate(30 378.5 316.6)" fill="#fff" /><path d="M374.36217495324513,323.9101575826003 L379.66217495324514,326.9101575826003 L387.9378250467549,312.28984241739977 L382.63782504675487,309.28984241739977" fill="#fff"/><ellipse cx="383.8" cy="319.6" rx="5" ry="8.4" transform="rotate(30 383.8 319.6)" fill="#fff" /><ellipse cx="127" cy="140.5" rx="3.4" ry="6.2" transform="rotate(30 127 140.5)" fill="#fff" /><path d="M123.91621850284693,145.8786886578251 L131.41621850284693,150.17868865782512 L137.58378149715307,139.4213113421749 L130.08378149715307,135.1213113421749" fill="#fff"/><ellipse cx="134.5" cy="144.8" rx="3.4" ry="6.2" transform="rotate(30 134.5 144.8)" fill="#fff" /><path d="M131.3,135.3 L124.7,146.5" stroke-width="0.8"/><path d="M133.2,136.4 L126.6,147.6" stroke-width="0.8"/><path d="M135.1,137.5 L128.5,148.7" stroke-width="0.8"/><path d="M137.0,138.6 L130.4,149.8" stroke-width="0.8"/><ellipse cx="134.5" cy="144.8" rx="2.3" ry="4.2" transform="rotate(30 134.5 144.8)" fill="#fff" /><path d="M132.39883408892655,148.43663330762712 L136.89883408892655,151.0366333076271 L141.10116591107345,143.7633666923729 L136.60116591107345,141.1633666923729" fill="#fff"/><ellipse cx="139" cy="147.4" rx="2.3" ry="4.2" transform="rotate(30 139 147.4)" fill="#fff" /><ellipse cx="139" cy="147.4" rx="1.3" ry="2.2" transform="rotate(30 139 147.4)" fill="none" /><ellipse cx="147.6" cy="153.1" rx="3" ry="4.4" transform="rotate(30 147.6 153.1)" fill="none" /><ellipse cx="155.5" cy="157.5" rx="2.3" ry="4.4" transform="rotate(30 155.5 157.5)" fill="none" /><ellipse cx="159.0" cy="159.5" rx="2.3" ry="4.4" transform="rotate(30 159.0 159.5)" fill="none" /><ellipse cx="162.5" cy="161.5" rx="2.3" ry="4.4" transform="rotate(30 162.5 161.5)" fill="none" /><ellipse cx="166.0" cy="163.5" rx="2.3" ry="4.4" transform="rotate(30 166.0 163.5)" fill="none" /><ellipse cx="170.5" cy="166.2" rx="1.3" ry="2.4" transform="rotate(30 170.5 166.2)" fill="#fff" /><path d="M169.32156864791344,168.29076530208903 L174.82156864791344,171.39076530208905 L177.17843135208656,167.20923469791097 L171.67843135208656,164.10923469791095" fill="#fff"/><ellipse cx="176" cy="169.3" rx="1.3" ry="2.4" transform="rotate(30 176 169.3)" fill="#fff" /><ellipse cx="176" cy="169.3" rx="2.8" ry="5" transform="rotate(30 176 169.3)" fill="#fff" /><path d="M173.51930530821582,173.6412157106223 L177.01930530821582,175.6412157106223 L181.98069469178418,166.95878428937772 L178.48069469178418,164.95878428937772" fill="#fff"/><ellipse cx="179.5" cy="171.3" rx="2.8" ry="5" transform="rotate(30 179.5 171.3)" fill="#fff" /><path d="M177.5,165 L175,173.5 M180.5,166.5 L178,175" fill="none"/><ellipse cx="180" cy="171.3" rx="1.3" ry="2" transform="rotate(30 180 171.3)" fill="none" /><ellipse cx="203" cy="173.5" rx="1.9" ry="3.4" transform="rotate(30 203 173.5)" fill="#fff" stroke-width="1.2" /><path d="M201.31312760958676,176.45202668322315 L204.81312760958676,178.45202668322315 L208.18687239041324,172.54797331677685 L204.68687239041324,170.54797331677685" fill="#fff" stroke-width="1.2"/><ellipse cx="206.5" cy="175.5" rx="1.9" ry="3.4" transform="rotate(30 206.5 175.5)" fill="#fff" stroke-width="1.2" /><path d="M204,171.2 L202,176.7 M205.8,172.3 L203.8,177.8" fill="none" stroke-width="1"/><path d="M232.5,147 L236.5,145 L237,153.5 L233,155.5 Z" fill="#fff"/><path d="M233,149 L236.5,147.3 M233.2,151.5 L236.8,149.8" fill="none"/><ellipse cx="113.5" cy="162" rx="4.2" ry="7.2" transform="rotate(30 113.5 162)" fill="#fff" /><path d="M109.87212861622658,168.2192080864687 L115.87212861622658,171.7192080864687 L123.12787138377342,159.2807919135313 L117.12787138377342,155.7807919135313" fill="#fff"/><ellipse cx="119.5" cy="165.5" rx="4.2" ry="7.2" transform="rotate(30 119.5 165.5)" fill="#fff" /><path d="M117,155.8 L112.5,163.5 L110.5,167.5 M120.7,158.5 L117,166.5 L115,171" fill="none"/><ellipse cx="119.5" cy="165.5" rx="3.2" ry="5.6" transform="rotate(30 119.5 165.5)" fill="#fff" /><path d="M116.67832225706512,170.33716184503123 L122.67832225706512,173.83716184503123 L128.3216777429349,164.16283815496877 L122.32167774293488,160.66283815496877" fill="#fff"/><ellipse cx="125.5" cy="169" rx="3.2" ry="5.6" transform="rotate(30 125.5 169)" fill="#fff" /><ellipse cx="125.6" cy="169" rx="2.2" ry="3.6" transform="rotate(30 125.6 169)" fill="none" /><path d="M121,161 L118.3,169.8 M123,162.2 L120.3,171" fill="none" stroke-width="0.8"/><ellipse cx="135.6" cy="175" rx="3.8" ry="6" transform="rotate(30 135.6 175)" fill="none" /><ellipse cx="143.5" cy="179.5" rx="2.4" ry="4.7" transform="rotate(30 143.5 179.5)" fill="none" /><ellipse cx="147.0" cy="181.5" rx="2.4" ry="4.7" transform="rotate(30 147.0 181.5)" fill="none" /><ellipse cx="150.5" cy="183.5" rx="2.4" ry="4.7" transform="rotate(30 150.5 183.5)" fill="none" /><ellipse cx="154.0" cy="185.5" rx="2.4" ry="4.7" transform="rotate(30 154.0 185.5)" fill="none" /><ellipse cx="159" cy="188" rx="1.8" ry="3.3" transform="rotate(30 159 188)" fill="#fff" /><path d="M157.3372256157705,190.85047037296482 L163.3372256157705,194.35047037296482 L166.6627743842295,188.64952962703518 L160.6627743842295,185.14952962703518" fill="#fff"/><ellipse cx="165" cy="191.5" rx="1.8" ry="3.3" transform="rotate(30 165 191.5)" fill="#fff" /><ellipse cx="165" cy="191.5" rx="3.5" ry="6.3" transform="rotate(30 165 191.5)" fill="#fff" /><path d="M161.83917603443737,196.94969649234935 L166.83917603443737,199.84969649234935 L173.16082396556263,188.95030350765066 L168.16082396556263,186.05030350765065" fill="#fff"/><ellipse cx="170" cy="194.4" rx="3.5" ry="6.3" transform="rotate(30 170 194.4)" fill="#fff" /><ellipse cx="170.3" cy="194.4" rx="1.3" ry="1.8" transform="rotate(30 170.3 194.4)" fill="none" /><ellipse cx="177.5" cy="198.5" rx="1.2" ry="2.3" transform="rotate(30 177.5 198.5)" fill="#fff" /><path d="M176.34334476990165,200.48800117673156 L181.84334476990165,203.68800117673155 L184.15665523009835,199.71199882326843 L178.65665523009835,196.51199882326844" fill="#fff"/><ellipse cx="183" cy="201.7" rx="1.2" ry="2.3" transform="rotate(30 183 201.7)" fill="#fff" /><path d="M180,197 L178.5,200 M181.5,198 L180,201" fill="none" stroke-width="0.7"/><ellipse cx="161.5" cy="276.5" rx="2.8" ry="4.3" transform="rotate(-40 161.5 276.5)" fill="#fff" stroke-width="1.0" /><path d="M158.71159424092087,273.22665410890716 L156.01159424092089,275.52665410890717 L161.58840575907914,282.07334589109286 L164.28840575907913,279.77334589109284" fill="#fff" stroke-width="1.0"/><ellipse cx="158.8" cy="278.8" rx="2.8" ry="4.3" transform="rotate(-40 158.8 278.8)" fill="#fff" stroke-width="1.0" /><path d="M155.5,277 L161,280.5 M156.3,275.2 L161.8,278.7 M157.5,273.8 L162.5,276.8" fill="none" stroke-width="0.8"/><path d="M166,272.5 L172.5,268.5 L174,271.3 L167.5,275.3 Z" fill="#fff"/><ellipse cx="167" cy="274" rx="1.4" ry="1.8" transform="rotate(-30 167 274)" fill="#fff" /><ellipse cx="193.5" cy="269.5" rx="2.8" ry="4.3" transform="rotate(-40 193.5 269.5)" fill="#fff" stroke-width="1.0" /><path d="M190.87824372834632,266.0917168468502 L188.27824372834633,268.0917168468502 L193.5217562716537,274.9082831531498 L196.12175627165368,272.9082831531498" fill="#fff" stroke-width="1.0"/><ellipse cx="190.9" cy="271.5" rx="2.8" ry="4.3" transform="rotate(-40 190.9 271.5)" fill="#fff" stroke-width="1.0" /><path d="M187.5,270 L193,273.5 M188.3,268.2 L193.8,271.7 M189.5,266.8 L194.5,269.8" fill="none" stroke-width="0.8"/><ellipse cx="199" cy="264.5" rx="1.5" ry="1.5" fill="#fff" /><ellipse cx="233.5" cy="272.3" rx="1.7" ry="2.8" transform="rotate(-30 233.5 272.3)" fill="#fff" /><path d="M232.09922272595105,269.8755777949153 L223.09922272595105,275.07557779491526 L225.90077727404895,279.92442220508474 L234.90077727404895,274.72442220508475" fill="#fff"/><ellipse cx="224.5" cy="277.5" rx="1.7" ry="2.8" transform="rotate(-30 224.5 277.5)" fill="#fff" /><path d="M224.1,274.6 L226.9,279.4" stroke-width="0.8"/><path d="M226.1,273.5 L228.9,278.2" stroke-width="0.8"/><path d="M228.1,272.3 L230.9,277.1" stroke-width="0.8"/><path d="M230.1,271.2 L232.9,275.9" stroke-width="0.8"/><ellipse cx="224.5" cy="277.5" rx="3" ry="4.2" transform="rotate(-30 224.5 277.5)" fill="#fff" stroke-width="1.1" /><path d="M222.42685681827479,273.847319156008 L218.7268568182748,275.947319156008 L222.87314318172523,283.25268084399204 L226.57314318172521,281.152680843992" fill="#fff" stroke-width="1.1"/><ellipse cx="220.8" cy="279.6" rx="3" ry="4.2" transform="rotate(-30 220.8 279.6)" fill="#fff" stroke-width="1.1" /><path d="M219.5,276 L222,283 M221.8,275 L224.3,282" fill="none" stroke-width="0.8"/>
</g>
<g class="lb">
<text x="120.5" y="111.0">13</text>
<text x="140.5" y="122.0">14</text>
<text x="161.5" y="134.0">12</text>
<text x="182.0" y="146.0">11</text>
<text x="203.5" y="158.0">15</text>
<text x="244.5" y="132.5">2</text>
<text x="100.5" y="196.5">9</text>
<text x="107.5" y="205.8">10</text>
<text x="129.5" y="213.0">8</text>
<text x="144.5" y="222.0">7</text>
<text x="159.5" y="230.0">3</text>
<text x="251.5" y="169.0">38</text>
<text x="326.5" y="70.0">19</text>
<text x="306.5" y="82.0">17</text>
<text x="286.5" y="94.0">18</text>
<text x="266.5" y="105.0">16</text>
<text x="303.5" y="138.0">35</text>
<text x="399.5" y="82.0">23</text>
<text x="419.5" y="158.0">31</text>
<text x="403.5" y="167.0">33</text>
<text x="387.5" y="176.0">32</text>
<text x="371.0" y="186.0">33</text>
<text x="355.5" y="195.0">34</text>
<text x="284.5" y="163.0">36</text>
<text x="296.5" y="213.0">37</text>
<text x="317.5" y="225.0">11</text>
<text x="337.5" y="236.0">12</text>
<text x="357.5" y="248.0">14</text>
<text x="377.5" y="260.0">13</text>
<text x="292.5" y="308.0">3</text>
<text x="312.5" y="320.0">7</text>
<text x="333.5" y="332.0">8</text>
<text x="346.5" y="344.0">10</text>
<text x="374.5" y="355.0">9</text>
<text x="164.5" y="305.0">5</text>
<text x="180.5" y="297.0">4</text>
<text x="196.5" y="315.0">5</text>
<text x="213.0" y="305.0">6</text>
<text x="231.5" y="308.0">39</text>
<text x="260.5" y="303.5">1</text>
<text x="260.5" y="394.0">27</text>
<text x="415.5" y="408.0">22</text>
<text x="391.5" y="422.0">21</text>
<text x="354.0" y="443.8">20</text>
<text x="334.5" y="481.0">29</text>
<text x="164.5" y="450.0">25</text>
<text x="263.5" y="510.0">26</text>
<text x="231.5" y="528.0">28</text>
<text x="147.5" y="563.0">30</text>
<text x="174.5" y="563.0">24</text>
</g>
<text x="449" y="573" font-family="Liberation Mono" font-size="6.5" fill="#777" letter-spacing="1.6">PN03577</text>
</svg>
</body></html>
